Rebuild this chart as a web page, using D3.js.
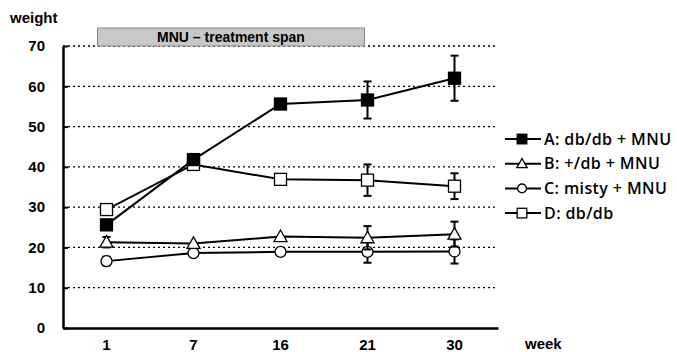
<!DOCTYPE html>
<html>
<head>
<meta charset="utf-8">
<style>
  body { margin: 0; background: #fff; }
  svg text { font-family: "Liberation Sans", Arial, sans-serif; fill: #000; }
  .axis text { font-size: 15px; font-weight: bold; }
</style>
</head>
<body>
<svg width="677" height="352"></svg>
<script src="https://cdn.jsdelivr.net/npm/d3@7/dist/d3.min.js"></script>
<script>

// weeks on the x axis
var weeks = ["1", "7", "16", "21", "30"];
var yTicks = [0, 10, 20, 30, 40, 50, 60, 70];

// group means
var seriesNames = ["A: db/db + MNU", "B: +/db + MNU", "C: misty + MNU", "D: db/db"];
var valuesA = [25.6, 41.8, 55.6, 56.6, 62.0];
var valuesB = [21.3, 21.0, 22.7, 22.4, 23.3];
var valuesC = [16.6, 18.6, 18.9, 18.9, 19.0];
var valuesD = [29.4, 40.6, 36.9, 36.7, 35.2];
// error bars (only where visible), null = hidden under the marker
var errA = [null, null, null, 4.6, 5.6];
var errB = [1.3, null, null, 2.9, 3.1];
var errC = [1.1, null, null, 2.7, 3.0];
var errD = [null, null, null, 3.9, 3.2];

var span = { from: "1", to: "21", label: "MNU \u2013 treatment span" };

var svg = d3.select("svg"),
    margin = {top: 46, right: 179, bottom: 24, left: 63},
    width = +svg.attr("width") - margin.left - margin.right,
    height = +svg.attr("height") - margin.top - margin.bottom,
    g = svg.append("g").attr("transform", "translate(" + margin.left + "," + margin.top + ")");

var x = d3.scaleBand().domain(weeks).range([0, width]);
var y = d3.scaleLinear().domain([0, 70]).range([height, 0]);

var cx = function(w) { return x(w) + x.bandwidth() / 2; };

//dotted grid
g.selectAll(".grid")
    .data(yTicks.filter(function(d) { return d > 0; }))
    .enter().append("line")
    .attr("class", "grid")
    .attr("x1", 0).attr("x2", width)
    .attr("y1", function(d) { return y(d); })
    .attr("y2", function(d) { return y(d); })
    .attr("stroke", "#000")
    .attr("stroke-width", 1.3)
    .attr("stroke-dasharray", "2,3");

//treatment span box
var sx0 = cx(span.from) - 9, sx1 = cx(span.to) - 3;
g.append("rect")
    .attr("x", sx0).attr("y", -18)
    .attr("width", sx1 - sx0).attr("height", 18)
    .attr("fill", "#c8c8c8")
    .attr("stroke", "#8a8a8a")
    .attr("stroke-width", 1);
g.append("text")
    .attr("x", (sx0 + sx1) / 2).attr("y", -4)
    .attr("text-anchor", "middle")
    .style("font-size", "14px").style("font-weight", "bold")
    .text(span.label);

//axes
var yAxis = g.append("g").attr("class", "axis")
    .call(d3.axisLeft(y).tickValues(yTicks).tickSizeInner(-5).tickSizeOuter(0).tickPadding(18));
yAxis.select(".domain").attr("stroke-width", 2.5);
yAxis.selectAll(".tick line").attr("stroke-width", 2);

var xAxis = g.append("g").attr("class", "axis")
    .attr("transform", "translate(0," + height + ")")
    .call(d3.axisBottom(x).tickSize(0).tickPadding(10));
xAxis.select(".domain").attr("stroke-width", 2.5);
xAxis.selectAll("text").attr("dy", "0.82em");

svg.append("text").attr("x", 10).attr("y", 23)
    .style("font-size", "15px").style("font-weight", "bold").text("weight");
svg.append("text").attr("x", 525).attr("y", 349)
    .style("font-size", "15px").style("font-weight", "bold").text("week");

//series
var series = [
  {name: seriesNames[0], values: valuesA, err: errA, shape: "square", fill: "#000"},
  {name: seriesNames[1], values: valuesB, err: errB, shape: "triangle", fill: "#fff"},
  {name: seriesNames[2], values: valuesC, err: errC, shape: "circle", fill: "#fff"},
  {name: seriesNames[3], values: valuesD, err: errD, shape: "square", fill: "#fff"}
];

function marker(sel, s, k) {
  k = k || 1;
  if (s.shape === "square") {
    sel.append("rect").attr("x", -6 * k).attr("y", -6 * k).attr("width", 12 * k).attr("height", 12 * k);
  } else if (s.shape === "triangle") {
    sel.append("path").attr("d", "M0," + (-6.5 * k) + "L" + (6.5 * k) + "," + (5 * k) + "L" + (-6.5 * k) + "," + (5 * k) + "Z");
  } else {
    sel.append("circle").attr("r", 5.5 * k);
  }
  sel.selectAll("*").attr("fill", s.fill).attr("stroke", "#000").attr("stroke-width", 1.3);
}

var line = d3.line()
    .x(function(d, i) { return cx(weeks[i]); })
    .y(function(d) { return y(d); });

// draw in reverse so A ends on top
series.slice().reverse().forEach(function(s) {
  var sg = g.append("g");
  s.err.forEach(function(e, i) {
    if (e == null) return;
    var px = cx(weeks[i]);
    var eg = sg.append("g").attr("stroke", "#000").attr("stroke-width", 2);
    eg.append("line").attr("x1", px).attr("x2", px)
        .attr("y1", y(s.values[i] + e)).attr("y2", y(s.values[i] - e));
    eg.append("line").attr("x1", px - 4).attr("x2", px + 4)
        .attr("y1", y(s.values[i] + e)).attr("y2", y(s.values[i] + e));
    eg.append("line").attr("x1", px - 4).attr("x2", px + 4)
        .attr("y1", y(s.values[i] - e)).attr("y2", y(s.values[i] - e));
  });
  sg.append("path").datum(s.values)
      .attr("d", line)
      .attr("fill", "none")
      .attr("stroke", "#000")
      .attr("stroke-width", 2);
  s.values.forEach(function(v, i) {
    marker(sg.append("g").attr("transform", "translate(" + cx(weeks[i]) + "," + y(v) + ")"), s);
  });
});

//legend
var legend = svg.selectAll(".legend")
    .data(series)
    .enter().append("g")
    .attr("class", "legend")
    .attr("transform", function(d, i) { return "translate(505," + (139 + i * 24.7) + ")"; });

legend.append("line")
    .attr("x1", 0).attr("x2", 36)
    .attr("stroke", "#000").attr("stroke-width", 2);
legend.each(function(s) {
  var m = d3.select(this).append("g").attr("transform", "translate(17,0)");
  marker(m, s, 0.8);
});
legend.append("text")
    .attr("x", 39).attr("dy", "0.36em")
    .style("font-family", "'Open Sans', sans-serif")
    .style("font-weight", "600")
    .style("font-size", "16px")
    .style("letter-spacing", "0.4px")
    .text(function(d) { return d.name; });

</script>
</body>
</html>
